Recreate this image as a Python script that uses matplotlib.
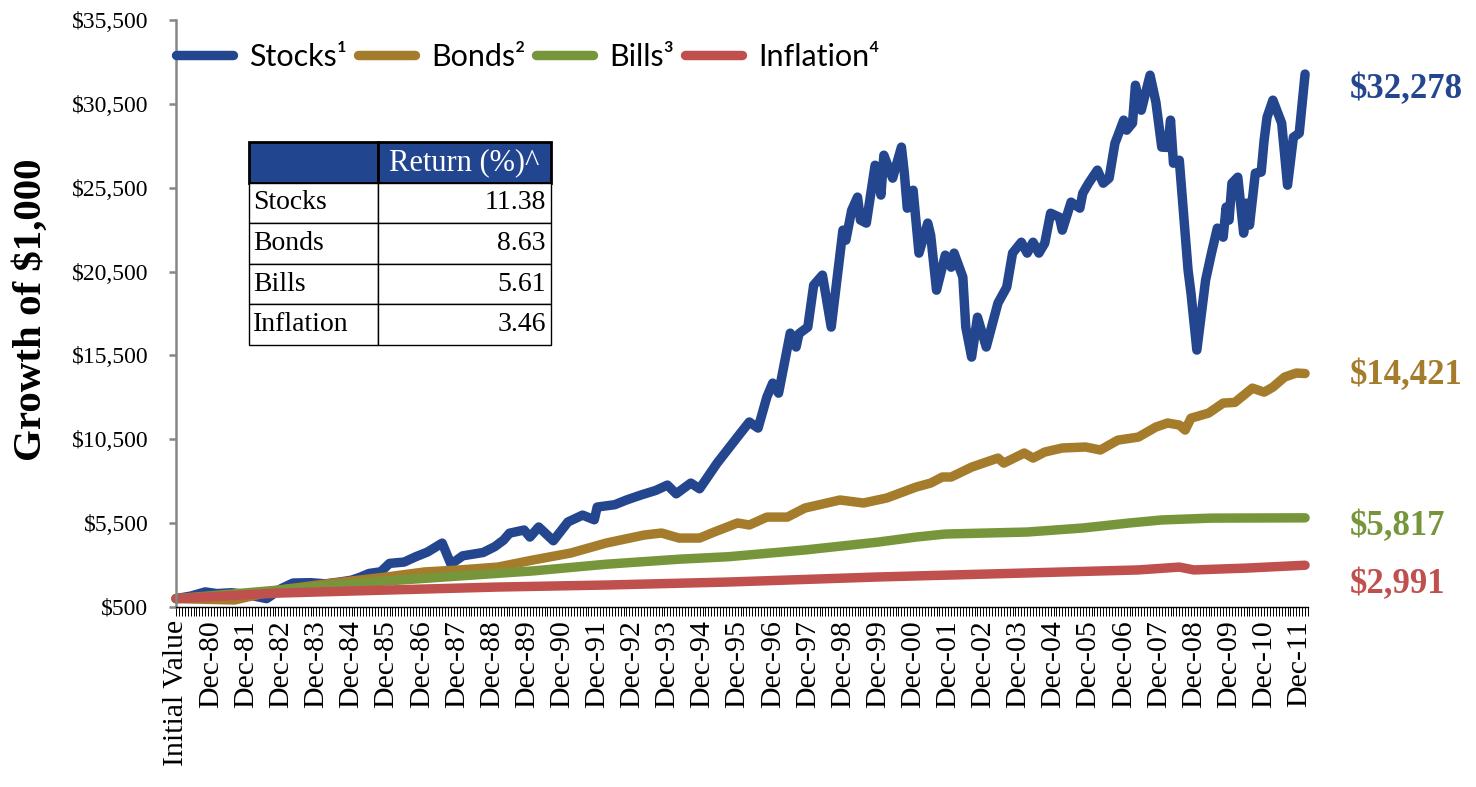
import matplotlib.pyplot as plt
from matplotlib.ticker import FixedLocator, MultipleLocator, FuncFormatter
from matplotlib.font_manager import FontProperties

# months counted from Dec-79 ("Initial Value" = 0), values = growth of $1,000
stocks_m = [0, 5, 10, 14, 19, 24, 31, 36, 40, 46, 51, 56, 60, 63, 66, 70, 73, 78, 82, 86,
            91, 94, 98, 105, 109, 112, 114, 119, 121, 124, 129, 134, 139, 143, 144, 150, 154,
            159, 164, 168, 171, 176, 179, 185, 189, 193, 196, 199, 202, 204, 206, 210, 212,
            213, 216, 218, 221, 224, 228, 229, 231, 233, 234, 236, 239, 241, 242, 245, 248,
            249, 250, 252, 254, 257, 258, 260, 263, 265, 266, 269, 270, 272, 274, 277, 281,
            284, 286, 289, 291, 293, 295, 297, 299, 302, 303, 306, 309, 310, 312, 315, 317,
            319, 321, 324, 325, 327, 328, 330, 333, 335, 337, 339, 340, 341, 343, 346, 347,
            349, 352, 354, 356, 358, 359, 360, 361, 363, 365, 366, 367, 369, 371, 372, 373,
            375, 378, 380, 382, 384, 386]
stocks_v = [1000, 1150, 1400, 1300, 1350, 1250, 1000, 1600, 1930, 1950, 1880, 1990, 2100,
            2280, 2500, 2600, 3100, 3180, 3500, 3780, 4310, 3050, 3550, 3750, 4100, 4490,
            4900, 5090, 4670, 5270, 4450, 5570, 5980, 5700, 6460, 6600, 6880, 7180, 7450,
            7770, 7250, 7890, 7550, 9080, 9980, 10870, 11530, 11170, 13020, 13850, 13250,
            16830, 16000, 16800, 17190, 19690, 20290, 17190, 22970, 22370, 24160, 24940,
            23570, 23390, 26840, 25060, 27440, 26070, 27920, 26370, 24280, 25350, 21600,
            23390, 22670, 19390, 21480, 20760, 21600, 20170, 17190, 15400, 17780, 16000,
            18620, 19570, 21600, 22250, 21600, 22250, 21600, 22190, 23980, 23740, 22970,
            24640, 24280, 25170, 25770, 26550, 25770, 26070, 28150, 29530, 28930, 29350,
            31610, 30120, 32210, 30600, 27920, 27900, 29530, 26960, 27140, 20580, 19210,
            15820, 20000, 21600, 23090, 22550, 24340, 23570, 25770, 26130, 22790, 24580,
            23270, 26370, 26430, 28330, 29700, 30720, 29350, 25650, 28510, 28750, 32278]

bonds_m = [0, 20, 35, 54, 72, 85, 97, 110, 122, 135, 147, 160, 166, 172, 179, 184, 192, 196,
           202, 209, 215, 224, 227, 235, 243, 253, 258, 262, 265, 272, 281, 283, 290, 293,
           297, 303, 311, 316, 322, 329, 335, 339, 343, 345, 347, 353, 358, 362, 368, 372,
           375, 379, 383, 386]
bonds_v = [1000, 920, 1510, 1930, 2290, 2590, 2710, 2880, 3300, 3720, 4310, 4790, 4910,
           4610, 4610, 4970, 5510, 5390, 5860, 5860, 6400, 6760, 6880, 6700, 7000, 7650,
           7890, 8250, 8250, 8840, 9380, 9080, 9680, 9380, 9740, 9980, 10040, 9860, 10450,
           10630, 11230, 11470, 11350, 11050, 11760, 12060, 12660, 12700, 13550, 13310,
           13610, 14210, 14450, 14421]

bills_m = [0, 23, 47, 72, 97, 122, 147, 172, 189, 215, 240, 253, 263, 291, 310, 326, 337,
           354, 386]
bills_v = [1000, 1330, 1690, 2050, 2350, 2650, 3050, 3350, 3500, 3900, 4370, 4670, 4850,
           4970, 5210, 5510, 5690, 5800, 5817]

infl_m = [0, 35, 72, 110, 147, 189, 240, 291, 329, 343, 348, 366, 386]
infl_v = [1000, 1330, 1510, 1690, 1810, 1990, 2290, 2530, 2710, 2880, 2710, 2820, 2991]

series_names = ['Stocks\u00b9', 'Bonds\u00b2', 'Bills\u00b3', 'Inflation\u2074']
series_colors = ['#23468F', '#A57C2B', '#77963B', '#C0504D']

table_assets = ['Stocks', 'Bonds', 'Bills', 'Inflation']
table_returns = [11.38, 8.63, 5.61, 3.46]

tick_months = list(range(0, 385, 12))
tick_labels = ['Initial Value', 'Dec-80', 'Dec-81', 'Dec-82', 'Dec-83', 'Dec-84', 'Dec-85',
               'Dec-86', 'Dec-87', 'Dec-88', 'Dec-89', 'Dec-90', 'Dec-91', 'Dec-92',
               'Dec-93', 'Dec-94', 'Dec-95', 'Dec-96', 'Dec-97', 'Dec-98', 'Dec-99',
               'Dec-00', 'Dec-01', 'Dec-02', 'Dec-03', 'Dec-04', 'Dec-05', 'Dec-06',
               'Dec-07', 'Dec-08', 'Dec-09', 'Dec-10', 'Dec-11']
y_ticks = [500, 5500, 10500, 15500, 20500, 25500, 30500, 35500]

plt.rcParams['font.family'] = 'Liberation Serif'

fig = plt.figure(figsize=(14.76, 7.87), dpi=100)
ax = fig.add_axes([176 / 1476, 1 - 607 / 787, 1132 / 1476, 587 / 787])

all_m = [stocks_m, bonds_m, bills_m, infl_m]
all_v = [stocks_v, bonds_v, bills_v, infl_v]
# right-hand labels: vertical offset (points) from the last point
end_offsets = [-11, -1.5, -6.5, -14]

for m, v, name, col, dy in zip(all_m, all_v, series_names, series_colors, end_offsets):
    ax.plot(m, v, color=col, lw=6.8, solid_capstyle='round', solid_joinstyle='round',
            label=name, clip_on=False)
    ax.annotate(f'${v[-1]:,.0f}', xy=(m[-1], v[-1]), xytext=(32, dy),
                textcoords='offset points', ha='left', va='center', color=col,
                fontsize=25, fontweight='bold', annotation_clip=False)

ax.set_xlim(0, 387)
ax.set_ylim(500, 35500)

ax.xaxis.set_major_locator(FixedLocator(tick_months))
ax.set_xticklabels(tick_labels, rotation=90, fontsize=21.5)
ax.xaxis.set_minor_locator(MultipleLocator(1))
ax.tick_params(axis='x', which='both', direction='out', length=6.5, width=0.7,
               color='black', pad=3)

ax.set_yticks(y_ticks)
ax.yaxis.set_major_formatter(FuncFormatter(lambda v, p: f'${v:,.0f}'))
ax.tick_params(axis='y', direction='out', length=5, width=1.8, color='#868686',
               labelsize=17, pad=15)

for s in ['top', 'right']:
    ax.spines[s].set_visible(False)
ax.spines['left'].set_color('#868686')
ax.spines['left'].set_linewidth(1.8)
ax.spines['bottom'].set_color('black')
ax.spines['bottom'].set_linewidth(1.0)

fig.text(31 / 1476, 1 - 310 / 787, 'Growth of $1,000', rotation=90, ha='center',
         va='center', fontsize=29.5, fontweight='bold')

leg = ax.legend(loc='center left', bbox_to_anchor=(0, 1 - 37 / 587), ncol=4,
                frameon=False, borderpad=0, borderaxespad=0, handlelength=1.85,
                handletextpad=0.55, columnspacing=0.35,
                prop=FontProperties(family=['Lato', 'DejaVu Sans'], size=22))

# return table
cell_text = [[a, f'{r:.2f}'] for a, r in zip(table_assets, table_returns)]
tbl = ax.table(cellText=cell_text, colLabels=['', 'Return (%)^'],
               colWidths=[129 / 302, 173 / 302], cellLoc='right',
               bbox=[73 / 1132, 262 / 587, 302 / 1132, 203 / 587])
tbl.auto_set_font_size(False)
tbl.set_fontsize(20)
for (r, c), cell in tbl.get_celld().items():
    cell.set_edgecolor('black')
    cell.set_linewidth(1)
    txt = cell.get_text()
    txt.set_fontfamily('Liberation Serif')
    cell.PAD = 0.03
    if c == 0:
        txt.set_horizontalalignment('left')
    if r == 0:
        cell.set_facecolor('#21458F')
        cell.set_linewidth(2)
        txt.set_color('white')
        txt.set_fontsize(22)

fig.savefig('out.png', dpi=100)
